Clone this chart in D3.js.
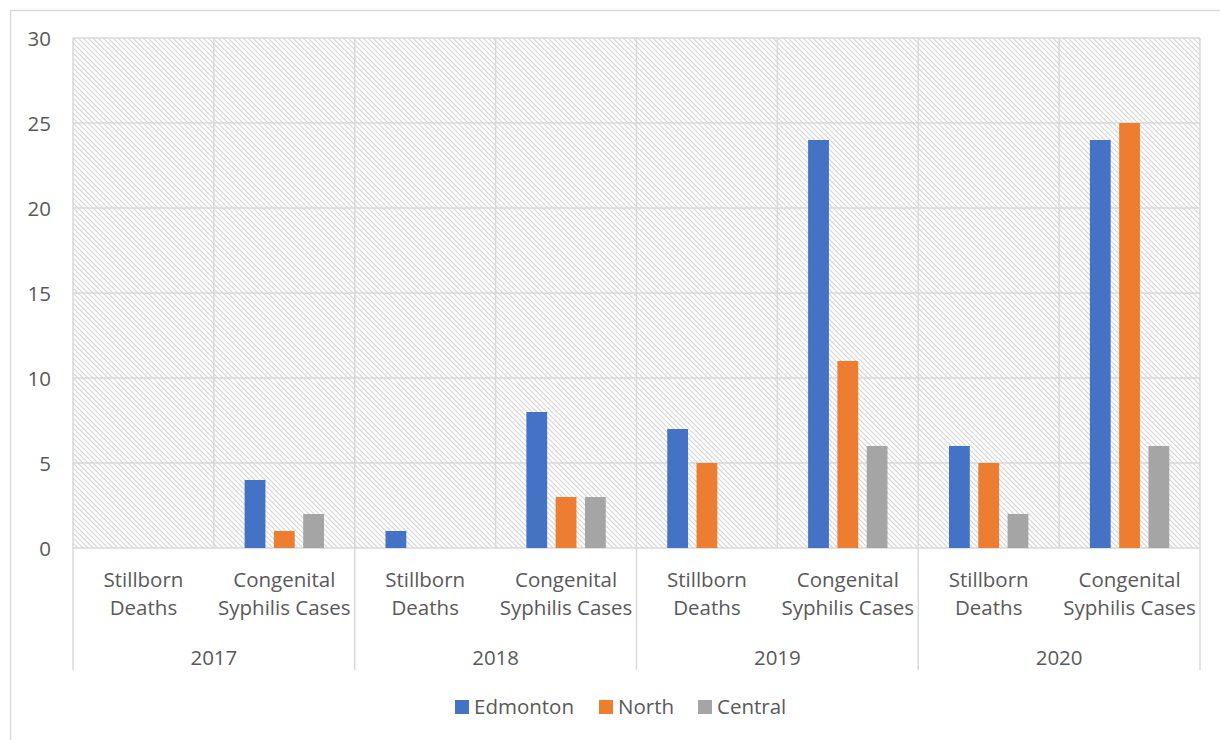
<!DOCTYPE html>
<html><head><meta charset="utf-8">
<script src="https://cdn.jsdelivr.net/npm/d3@7"></script>
<style>body{margin:0;background:#fff;} svg{display:block;}</style>
</head><body>
<svg id="c" width="1220" height="740"></svg>
<script>
const years = ["2017","2018","2019","2020"];
const measures = ["Stillborn Deaths","Congenital Syphilis Cases"];
const measureLines = [["Stillborn","Deaths"],["Congenital","Syphilis Cases"]];
const seriesNames = ["Edmonton","North","Central"];
const edmonton = [0,4, 1,8, 7,24, 6,24];
const north    = [0,1, 0,3, 5,11, 5,25];
const central  = [0,2, 0,3, 0,6, 2,6];
const yTicks = [0,5,10,15,20,25,30];
const colors = ["#4472c4","#ed7d31","#a5a5a5"];

(function(){
const svg = d3.select("#c");
const font = "'Open Sans', Lato, sans-serif";
const fs = 20.5;
const textColor = "#595959";
const gridColor = "#d9d9d9";

// outer frame
svg.append("rect").attr("x",10.5).attr("y",10.5).attr("width",1230).attr("height",750)
  .attr("fill","#fff").attr("stroke",gridColor).attr("stroke-width",1.5);

const pl=73, pr=1200, pt=38, pb=548;
const cats = [];
years.forEach(y=>measures.forEach(m=>cats.push(y+"|"+m)));
const x = d3.scaleBand().domain(cats).range([pl,pr]).paddingInner(0).paddingOuter(0);
const xs = d3.scaleBand().domain(seriesNames).range([0,x.bandwidth()]).paddingInner(0.29).paddingOuter(1.05);
const y = d3.scaleLinear().domain([0,30]).range([pb,pt]);

// hatch pattern
const P = 5;
const defs = svg.append("defs");
const pat = defs.append("pattern").attr("id","hatch").attr("patternUnits","userSpaceOnUse")
  .attr("width",P).attr("height",P);
pat.append("rect").attr("width",P).attr("height",P).attr("fill","#fff");
pat.append("path").attr("d",`M-1,-1 L${P+1},${P+1} M-1,${P-1} L1,${P+1} M${P-1},-1 L${P+1},1`)
  .attr("stroke","#d4d4d4").attr("stroke-width",1.1);

svg.append("rect").attr("x",pl).attr("y",pt).attr("width",pr-pl).attr("height",pb-pt)
  .attr("fill","url(#hatch)");

// horizontal gridlines
svg.append("g").selectAll("line").data(yTicks).join("line")
  .attr("x1",pl).attr("x2",pr).attr("y1",d=>y(d)).attr("y2",d=>y(d))
  .attr("stroke",gridColor).attr("stroke-width",1.5);

// vertical gridlines at category boundaries (within plot)
const bounds = cats.map(c=>x(c)).concat([pr]);
svg.append("g").selectAll("line").data(bounds).join("line")
  .attr("x1",d=>d).attr("x2",d=>d).attr("y1",pt).attr("y2",pb)
  .attr("stroke",gridColor).attr("stroke-width",1.5);

// group separators in axis area
const groupBounds = years.map(yr=>x(yr+"|"+measures[0])).concat([pr]);
svg.append("g").selectAll("line").data(groupBounds).join("line")
  .attr("x1",d=>d).attr("x2",d=>d).attr("y1",pb).attr("y2",670)
  .attr("stroke",gridColor).attr("stroke-width",1.5);

// y axis labels
const yAxis = d3.axisLeft(y).tickValues(yTicks).tickSize(0).tickPadding(0);
const ya = svg.append("g").attr("transform","translate(51,0)").call(yAxis);
ya.select(".domain").remove();
ya.selectAll("text").attr("font-family",font).attr("font-size",fs).attr("fill",textColor).attr("dy","0.35em");

// bars
const series = [edmonton,north,central];
series.forEach((vals,si)=>{
  svg.append("g").selectAll("rect").data(vals.map((v,i)=>({v,c:cats[i]}))).join("rect")
    .attr("x",d=>x(d.c)+xs(seriesNames[si]))
    .attr("width",xs.bandwidth())
    .attr("y",d=>y(d.v))
    .attr("height",d=>y(0)-y(d.v))
    .attr("fill",colors[si]);
});

// category labels
const catG = svg.append("g");
cats.forEach((c,i)=>{
  const lines = measureLines[i%2];
  const t = catG.append("text").attr("x",x(c)+x.bandwidth()/2).attr("y",587)
    .attr("text-anchor","middle").attr("font-family",font).attr("font-size",fs).attr("fill",textColor);
  lines.forEach((l,j)=>t.append("tspan").attr("x",x(c)+x.bandwidth()/2).attr("dy",j?28:0).text(l));
});
// year labels
years.forEach(yr=>{
  const x0 = x(yr+"|"+measures[0]);
  svg.append("text").attr("x",x0+x.bandwidth()).attr("y",665).attr("text-anchor","middle")
    .attr("font-family",font).attr("font-size",fs).attr("fill",textColor).text(yr);
});

// legend
const legX = [455,599,698];
const lg = svg.append("g");
seriesNames.forEach((n,i)=>{
  lg.append("rect").attr("x",legX[i]).attr("y",700).attr("width",14).attr("height",14).attr("fill",colors[i]);
  lg.append("text").attr("x",legX[i]+19).attr("y",714).attr("font-family",font).attr("font-size",fs)
    .attr("fill",textColor).text(n);
});
})();
</script>
</body></html>
